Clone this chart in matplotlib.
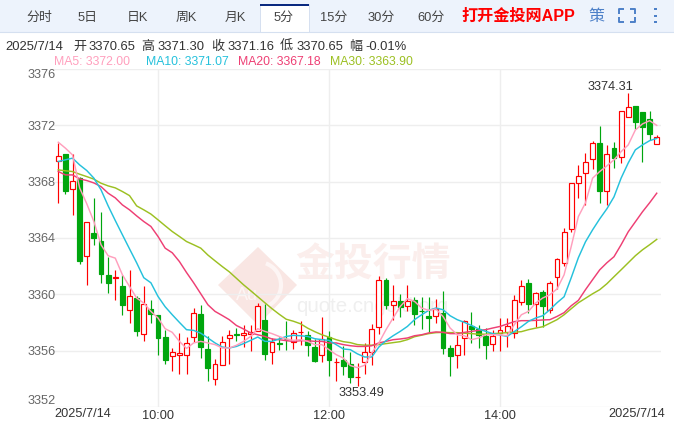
# -*- coding: utf-8 -*-
import matplotlib
matplotlib.use("Agg")
import matplotlib.pyplot as plt
from matplotlib.patches import Rectangle, Polygon, Arc

plt.rcParams['font.family'] = ['Liberation Sans', 'Noto Sans CJK SC', 'DejaVu Sans']

# 5分钟K线
opens = [3369.45, 3369.97, 3367.51, 3368.25, 3362.69, 3364.37, 3363.80, 3361.39, 3361.14, 3360.61,
         3358.86, 3359.74, 3357.16, 3358.96, 3358.53, 3356.97, 3355.60, 3355.70, 3355.70, 3356.97,
         3358.62, 3356.14, 3354.00, 3354.99, 3356.87, 3357.20, 3357.11, 3357.18, 3357.37, 3358.20,
         3355.88, 3356.55, 3356.85, 3356.59, 3357.30, 3357.13, 3356.26, 3355.67, 3356.97, 3355.20,
         3355.36, 3355.08, 3354.10, 3355.20, 3355.91, 3357.68, 3361.04, 3359.24, 3359.53, 3359.19,
         3359.62, 3358.83, 3358.48, 3358.43, 3358.67, 3356.19, 3355.67, 3356.90, 3357.77, 3357.54,
         3357.06, 3356.45, 3357.26, 3357.30, 3357.26, 3359.46, 3360.80, 3359.28, 3360.16, 3358.86,
         3361.23, 3362.22, 3364.63, 3367.89, 3368.60, 3369.64, 3370.77, 3367.37, 3370.40, 3369.74,
         3372.62, 3373.38, 3372.95, 3372.45, 3370.65]
highs = [3370.73, 3369.97, 3369.97, 3368.36, 3365.13, 3366.83, 3365.88, 3362.65, 3361.70, 3361.39,
         3361.70, 3359.90, 3360.56, 3359.62, 3358.53, 3357.49, 3356.19, 3357.26, 3356.97, 3359.03,
         3359.26, 3357.02, 3355.41, 3357.02, 3357.49, 3357.61, 3357.84, 3357.84, 3359.38, 3359.33,
         3356.90, 3356.97, 3358.08, 3357.49, 3358.08, 3357.37, 3356.83, 3358.39, 3357.37, 3355.48,
         3356.30, 3355.88, 3355.13, 3356.55, 3357.91, 3361.27, 3361.16, 3360.68, 3360.02, 3360.68,
         3359.78, 3359.81, 3359.81, 3359.67, 3360.26, 3356.43, 3357.13, 3358.20, 3358.74, 3357.84,
         3357.61, 3357.49, 3358.32, 3358.32, 3359.97, 3361.04, 3361.11, 3360.20, 3360.33, 3360.96,
         3362.57, 3364.70, 3367.91, 3369.19, 3370.07, 3370.89, 3371.98, 3370.61, 3370.84, 3373.00,
         3374.31, 3373.38, 3372.95, 3373.02, 3371.30]
lows = [3366.52, 3367.09, 3365.60, 3362.16, 3360.68, 3363.47, 3360.80, 3360.09, 3359.57, 3358.55,
        3357.96, 3357.06, 3356.66, 3357.96, 3355.72, 3355.06, 3354.53, 3354.37, 3354.37, 3356.59,
        3355.48, 3353.87, 3353.59, 3354.99, 3355.06, 3356.66, 3356.24, 3355.95, 3357.37, 3355.36,
        3355.08, 3356.07, 3356.07, 3356.14, 3356.43, 3355.65, 3355.17, 3355.17, 3354.23, 3353.87,
        3354.30, 3353.70, 3353.49, 3354.35, 3354.96, 3357.21, 3358.98, 3358.15, 3358.39, 3358.79,
        3357.84, 3357.56, 3357.26, 3357.96, 3355.77, 3354.18, 3354.77, 3355.72, 3356.55, 3356.19,
        3355.43, 3355.95, 3355.95, 3356.26, 3356.90, 3359.26, 3358.67, 3357.68, 3357.68, 3358.67,
        3360.38, 3361.98, 3364.46, 3366.87, 3366.35, 3368.89, 3366.48, 3366.35, 3368.96, 3369.31,
        3372.62, 3371.74, 3369.38, 3370.96, 3370.65]
closes = [3369.85, 3367.37, 3368.08, 3362.40, 3365.13, 3364.02, 3361.46, 3360.84, 3361.20, 3359.26,
          3359.88, 3357.37, 3359.33, 3358.57, 3356.92, 3355.36, 3355.91, 3355.84, 3356.52, 3358.67,
          3356.24, 3354.75, 3355.06, 3356.62, 3357.11, 3357.09, 3357.26, 3357.35, 3359.19, 3355.79,
          3356.62, 3356.50, 3356.80, 3357.26, 3357.35, 3356.38, 3355.29, 3356.83, 3355.31, 3355.22,
          3354.94, 3354.11, 3354.13, 3355.91, 3357.54, 3360.99, 3359.21, 3359.53, 3359.07, 3359.50,
          3358.62, 3358.80, 3358.34, 3358.96, 3356.16, 3355.65, 3356.40, 3358.08, 3357.56, 3357.13,
          3356.43, 3357.04, 3357.47, 3357.75, 3359.60, 3360.56, 3359.28, 3360.09, 3359.14, 3360.84,
          3362.50, 3364.42, 3367.91, 3368.39, 3369.43, 3370.73, 3367.37, 3369.95, 3369.69, 3373.00,
          3373.28, 3372.26, 3371.91, 3371.41, 3371.16]

# 均线
ma5 = [3370.80, 3370.38, 3369.90, 3367.56, 3366.43, 3365.17, 3363.52, 3362.74, 3362.57, 3361.39,
       3360.56, 3359.74, 3359.38, 3358.79, 3358.32, 3357.56, 3357.30, 3356.66, 3356.16, 3356.55,
       3356.66, 3356.55, 3356.43, 3356.19, 3356.19, 3356.38, 3356.66, 3357.01, 3357.56, 3357.37,
       3357.21, 3357.01, 3356.83, 3356.73, 3356.78, 3356.66, 3356.43, 3356.43, 3356.07, 3355.72,
       3355.48, 3354.94, 3354.79, 3354.96, 3355.84, 3356.55, 3357.49, 3358.32, 3359.14, 3359.69,
       3359.50, 3359.03, 3358.86, 3358.96, 3358.43, 3357.61, 3357.13, 3357.06, 3356.78, 3356.90,
       3357.13, 3357.13, 3357.13, 3357.06, 3357.84, 3358.55, 3358.79, 3359.38, 3359.74, 3359.97,
       3360.38, 3361.39, 3363.40, 3365.52, 3366.50, 3368.25, 3368.72, 3369.12, 3369.55, 3370.13,
       3370.61, 3371.67, 3372.10, 3372.33, 3372.00]
ma10 = [3369.43, 3369.55, 3369.67, 3369.19, 3368.79, 3368.25, 3367.42, 3366.28, 3365.24, 3364.23,
        3363.23, 3362.24, 3361.18, 3360.82, 3359.85, 3359.12, 3358.55, 3358.01, 3357.49, 3357.44,
        3357.24, 3356.90, 3356.55, 3356.26, 3356.19, 3356.30, 3356.50, 3356.73, 3356.97, 3356.66,
        3356.66, 3356.83, 3357.01, 3357.09, 3357.06, 3357.01, 3356.85, 3356.78, 3356.73, 3356.43,
        3356.12, 3356.07, 3355.77, 3355.55, 3355.55, 3356.26, 3356.71, 3357.06, 3357.37, 3357.72,
        3358.20, 3358.55, 3358.86, 3359.03, 3358.91, 3358.48, 3358.20, 3358.01, 3357.79, 3357.54,
        3357.37, 3357.21, 3357.11, 3357.01, 3357.35, 3357.70, 3358.08, 3358.32, 3358.48, 3358.91,
        3359.40, 3359.83, 3361.18, 3362.60, 3363.73, 3364.58, 3365.36, 3366.07, 3366.92, 3368.25,
        3369.33, 3370.26, 3370.61, 3370.91, 3371.07]
ma20 = [3368.72, 3368.48, 3368.48, 3368.20, 3368.08, 3367.91, 3367.65, 3367.18, 3366.85, 3366.35,
        3366.00, 3365.57, 3365.17, 3364.82, 3364.11, 3363.28, 3362.95, 3362.33, 3361.55, 3360.82,
        3360.04, 3359.26, 3358.79, 3358.50, 3358.20, 3357.79, 3357.54, 3357.26, 3357.13, 3357.01,
        3356.83, 3356.78, 3356.71, 3356.66, 3356.71, 3356.71, 3356.66, 3356.66, 3356.55, 3356.55,
        3356.43, 3356.35, 3356.30, 3356.30, 3356.35, 3356.55, 3356.66, 3356.78, 3356.83, 3356.90,
        3357.06, 3357.13, 3357.26, 3357.33, 3357.30, 3357.21, 3357.21, 3357.30, 3357.37, 3357.44,
        3357.49, 3357.61, 3357.72, 3357.89, 3358.06, 3358.13, 3358.13, 3358.15, 3358.18, 3358.20,
        3358.43, 3358.70, 3359.19, 3359.57, 3360.33, 3361.04, 3361.74, 3362.24, 3362.67, 3363.52,
        3364.44, 3365.15, 3365.86, 3366.50, 3367.18]
ma30 = [3368.84, 3368.77, 3368.72, 3368.53, 3368.36, 3368.18, 3367.89, 3367.70, 3367.56, 3367.30,
        3367.01, 3366.28, 3366.00, 3365.70, 3365.29, 3364.87, 3364.46, 3364.11, 3363.75, 3363.52,
        3363.28, 3362.79, 3362.38, 3361.98, 3361.60, 3361.14, 3360.68, 3360.26, 3359.83, 3359.40,
        3358.98, 3358.59, 3358.23, 3358.09, 3357.91, 3357.60, 3357.35, 3357.13, 3356.96, 3356.78,
        3356.64, 3356.57, 3356.43, 3356.39, 3356.39, 3356.43, 3356.50, 3356.57, 3356.64, 3356.78,
        3356.99, 3357.10, 3357.21, 3357.28, 3357.30, 3357.28, 3357.28, 3357.24, 3357.21, 3357.17,
        3357.17, 3357.21, 3357.24, 3357.28, 3357.31, 3357.35, 3357.49, 3357.60, 3357.70, 3357.95,
        3358.20, 3358.55, 3358.98, 3359.40, 3359.72, 3360.04, 3360.33, 3360.75, 3361.25, 3361.74,
        3362.24, 3362.74, 3363.16, 3363.52, 3363.90]

y_ticks = [3376, 3372, 3368, 3364, 3360, 3356, 3352]
time_ticks = [14, 38, 62]
time_labels = ["10:00", "12:00", "14:00"]
date_label = "2025/7/14"
tabs = ["分时", "5日", "日K", "周K", "月K", "5分", "15分", "30分", "60分"]
ma_labels = ["MA5: 3372.00", "MA10: 3371.07", "MA20: 3367.18", "MA30: 3363.90"]
info_labels = ["2025/7/14", "开", "3370.65", "高", "3371.30", "收", "3371.16", "低", "3370.65", "幅", "-0.01%"]

W, H = 674, 421
fig = plt.figure(figsize=(W / 100, H / 100), dpi=100, facecolor='w')

# 整张图用像素坐标的底层，放标签栏和文字
bg = fig.add_axes([0, 0, 1, 1], zorder=0)
bg.set_xlim(0, W)
bg.set_ylim(H, 0)
bg.axis('off')

bg.add_patch(Rectangle((0, 0), W, 31.5, fc='#edf3fc', ec='none'))
bg.plot([0, W], [31.5, 31.5], color='#d5e0f0', lw=0.8)
bg.add_patch(Rectangle((260, 4), 48.5, 28, fc='w', ec='#d5e0f0', lw=0.7))
bg.add_patch(Rectangle((260, 4), 48.5, 2, fc='#0b2a80', ec='none'))

tab_x = [39, 88, 137, 186, 235, 284, 334, 381, 431]
for t, x in zip(tabs, tab_x):
    bg.text(x, 17.5, t, ha='center', va='center', fontsize=9.3, color='#444444')
bg.text(518, 16, "打开金投网APP", ha='center', va='center', fontsize=11.6, color='#ff0000', fontweight='bold')
bg.text(596, 16, "策", ha='center', va='center', fontsize=11.5, color='#4d80c8')

# 全屏图标和三个点
for cx, sx in ((619, 1), (635, -1)):
    for cy, sy in ((8.5, 1), (21.5, -1)):
        bg.plot([cx + 5 * sx, cx, cx], [cy, cy, cy + 5 * sy], color='#4d80c8', lw=1.4, solid_capstyle='butt')
for cy in (8.5, 15.5, 21.5):
    bg.add_patch(Rectangle((654, cy - 1), 2.5, 2.5, fc='#4d80c8', ec='none'))

# 信息行
info_x = [5, 73, 88, 141, 157, 211, 227, 280, 296, 349, 365]
for t, x in zip(info_labels, info_x):
    bg.text(x, 47, t, ha='left', va='center', fontsize=9.4, color='#333333')
ma_colors = ['#ff9fbd', '#25c1dc', '#ee3f74', '#9cc022']
ma_x = [54, 146, 238, 330]
for t, x, c in zip(ma_labels, ma_x, ma_colors):
    bg.text(x, 62, t, ha='left', va='center', fontsize=8.8, color=c)

# 水印
bg.add_patch(Polygon([(258, 247), (297, 285), (258, 325), (218, 285)], fc='#f9e6e3', ec='none'))
bg.add_patch(Arc((258, 285), 46, 46, theta1=-70, theta2=70, color='#fdf5f4', lw=3))
bg.text(247, 296, "Au", ha='center', va='center', fontsize=13, color='#fdf6f5')
bg.text(373, 265, "金投行情", ha='center', va='center', fontsize=28, color='#fbeeec',
        fontweight='bold', family=['Noto Sans CJK SC'])
bg.text(372, 306, "quote.cngold.org", ha='center', va='center', fontsize=14.8, color='#efefef')

# K线区
left, right, top, bottom = 54, 661, 69, 407
ax = fig.add_axes([left / W, 1 - bottom / H, (right - left) / W, (bottom - top) / H], zorder=1)
ax.patch.set_alpha(0)
ax.set_xlim(-0.6, 84.6)
ax.set_ylim(3352, 3376)
for s in ax.spines.values():
    s.set_visible(False)

ax.set_yticks(y_ticks)
ax.set_yticklabels([str(v) for v in y_ticks], fontsize=9.2, color='#666666')
ax.set_xticks(time_ticks)
ax.set_xticklabels(time_labels, fontsize=9.2, color='#333333')
ax.tick_params(axis='y', length=0, pad=-1)
ax.tick_params(axis='x', length=0, pad=2.5)
ax.grid(color='#eeeeee', lw=1)
ax.set_axisbelow(True)
ylabels = ax.get_yticklabels()
ylabels[0].set_va('top')
ylabels[-1].set_va('bottom')

ax.text(-0.5, -0.022, date_label, transform=ax.get_xaxis_transform(), ha='left', va='center',
        fontsize=9.2, color='#333333', clip_on=False)
ax.text(85.2, -0.022, date_label, transform=ax.get_xaxis_transform(), ha='right', va='center',
        fontsize=9.2, color='#333333', clip_on=False)

# 蜡烛，红色空心涨，绿色实心跌
for i in range(len(opens)):
    up = closes[i] >= opens[i]
    c = '#ff0000' if up else '#00a60e'
    ax.vlines(i, lows[i], highs[i], color=c, lw=0.85, zorder=2)
    ax.bar(i, closes[i] - opens[i], bottom=opens[i], width=0.68,
           facecolor='w' if up else c, edgecolor=c, linewidth=0.85, zorder=3)

x = list(range(len(ma5)))
ax.plot(x, ma30, color=ma_colors[3], lw=1.05, zorder=4)
ax.plot(x, ma20, color=ma_colors[2], lw=1.05, zorder=5)
ax.plot(x, ma10, color=ma_colors[1], lw=1.05, zorder=6)
ax.plot(x, ma5, color=ma_colors[0], lw=1.05, zorder=7)

# 最高最低标注
i_hi = highs.index(max(highs))
i_lo = lows.index(min(lows))
ax.annotate("%.2f" % highs[i_hi], (i_hi, highs[i_hi]), xytext=(-13, 0), textcoords='offset points',
            ha='center', va='bottom', fontsize=9.2, color='#333333')
ax.annotate("%.2f" % lows[i_lo], (i_lo, lows[i_lo]), xytext=(2.5, -1), textcoords='offset points',
            ha='center', va='top', fontsize=9.2, color='#333333')

fig.savefig("out.png", dpi=100)
